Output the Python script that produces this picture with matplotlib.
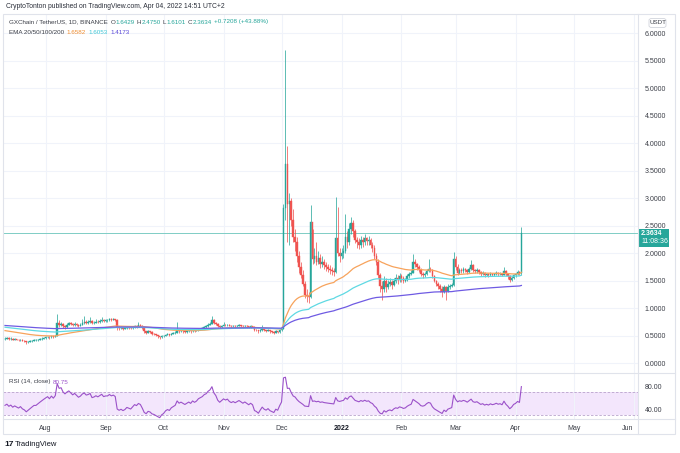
import numpy as np
import pandas as pd
import matplotlib
matplotlib.use("Agg")
import matplotlib.pyplot as plt
import matplotlib.dates as mdates
from matplotlib.patches import Rectangle, FancyBboxPatch

plt.rcParams['font.family'] = ['Liberation Sans', 'DejaVu Sans']

# Velas diarias GXC/USDT, la última es el 04-04-2022
last_day = "2022-04-04"
first_open = 0.44

close = [
    0.45, 0.46, 0.44, 0.45, 0.43, 0.44, 0.43, 0.42, 0.43, 0.41, 0.40, 0.38, 0.39, 0.40, 0.41, 0.42, 0.42, 0.43, 0.44, 0.45, 0.46, 0.47,
    0.48, 0.47, 0.49, 0.48, 0.50, 0.74, 0.70, 0.72, 0.68, 0.66, 0.70, 0.73, 0.71, 0.69, 0.72, 0.70, 0.68, 0.70, 0.74, 0.76, 0.74, 0.75, 0.77, 0.73, 0.74, 0.76, 0.75, 0.77, 0.79, 0.77, 0.78,
    0.78, 0.80, 0.79, 0.80, 0.79, 0.66, 0.64, 0.65, 0.63, 0.64, 0.66, 0.65, 0.64, 0.66, 0.68, 0.67, 0.69, 0.68, 0.64, 0.58, 0.56, 0.58, 0.57, 0.54, 0.53, 0.51, 0.49, 0.47, 0.49, 0.50,
    0.52, 0.53, 0.52, 0.54, 0.55, 0.56, 0.60, 0.58, 0.59, 0.58, 0.57, 0.58, 0.59, 0.58, 0.60, 0.59, 0.60, 0.62, 0.63, 0.64, 0.66, 0.67, 0.70, 0.72, 0.78, 0.74, 0.72, 0.68, 0.66, 0.68, 0.70,
    0.69, 0.70, 0.68, 0.67, 0.68, 0.67, 0.68, 0.69, 0.68, 0.67, 0.68, 0.67, 0.66, 0.67, 0.66, 0.61, 0.60, 0.58, 0.60, 0.62, 0.60, 0.59, 0.60, 0.58, 0.57, 0.56, 0.58, 0.57, 0.60, 0.63,
    2.82, 3.63, 2.90, 2.95, 2.60, 2.30, 2.20, 1.95, 1.75, 1.60, 1.45, 1.25, 1.22, 1.20, 2.57, 1.90, 1.95, 1.85, 1.92, 1.80, 1.85, 1.78, 1.75, 1.72, 1.70, 1.68, 1.66, 2.27, 2.00, 1.95,
    2.00, 2.05, 2.30, 2.20, 2.45, 2.55, 2.40, 2.25, 2.20, 2.15, 2.25, 2.20, 2.28, 2.22, 2.25, 2.15, 2.10, 1.95, 1.85, 1.60, 1.40, 1.35, 1.50, 1.38, 1.45, 1.48, 1.42, 1.50, 1.55, 1.52, 1.58,
    1.55, 1.50, 1.52, 1.58, 1.62, 1.65, 1.85, 1.80, 1.75, 1.70, 1.62, 1.60, 1.62, 1.68, 1.72, 1.70, 1.58, 1.50, 1.45, 1.40, 1.35, 1.30, 1.38, 1.32, 1.38, 1.40, 1.42, 1.90,
    1.75, 1.65, 1.70, 1.68, 1.72, 1.70, 1.66, 1.72, 1.78, 1.70, 1.68, 1.70, 1.66, 1.62, 1.64, 1.60, 1.62, 1.60, 1.63, 1.61, 1.62, 1.64, 1.62, 1.63, 1.61, 1.68, 1.62, 1.58, 1.52, 1.55, 1.60,
    1.62, 1.66, 1.6426, 2.3634,
]
high = [
    0.47, 0.48, 0.47, 0.47, 0.46, 0.46, 0.45, 0.44, 0.45, 0.44, 0.42, 0.41, 0.41, 0.42, 0.43, 0.44, 0.44, 0.45, 0.46, 0.47, 0.48, 0.49,
    0.50, 0.49, 0.50, 0.50, 0.52, 0.90, 0.78, 0.76, 0.74, 0.70, 0.74, 0.76, 0.75, 0.73, 0.75, 0.74, 0.72, 0.74, 0.80, 0.86, 0.79, 0.78, 0.84, 0.78, 0.77, 0.80, 0.78, 0.80, 0.84, 0.80, 0.81,
    0.80, 0.83, 0.82, 0.82, 0.81, 0.80, 0.68, 0.67, 0.66, 0.66, 0.68, 0.68, 0.66, 0.68, 0.70, 0.70, 0.76, 0.71, 0.69, 0.65, 0.59, 0.60, 0.59, 0.58, 0.55, 0.54, 0.52, 0.50, 0.51, 0.52,
    0.54, 0.55, 0.54, 0.56, 0.57, 0.58, 0.75, 0.62, 0.61, 0.60, 0.59, 0.60, 0.61, 0.60, 0.62, 0.61, 0.62, 0.64, 0.65, 0.66, 0.68, 0.69, 0.73, 0.75, 0.86, 0.80, 0.76, 0.73, 0.69, 0.70, 0.76,
    0.71, 0.72, 0.71, 0.69, 0.70, 0.69, 0.70, 0.71, 0.70, 0.69, 0.70, 0.69, 0.68, 0.69, 0.68, 0.67, 0.63, 0.61, 0.62, 0.69, 0.63, 0.61, 0.62, 0.61, 0.59, 0.58, 0.60, 0.59, 0.62, 0.65,
    2.90, 5.69, 3.95, 3.10, 3.00, 2.80, 2.45, 2.30, 2.05, 1.85, 1.70, 1.50, 1.35, 1.30, 2.88, 2.45, 2.10, 2.20, 2.05, 1.98, 1.95, 1.90, 1.85, 1.80, 1.78, 1.76, 1.74, 3.02, 2.84, 2.10,
    2.10, 2.15, 2.72, 2.40, 2.55, 2.66, 2.60, 2.45, 2.30, 2.28, 2.32, 2.30, 2.35, 2.30, 2.32, 2.28, 2.20, 2.15, 2.00, 1.90, 1.65, 1.50, 1.58, 1.55, 1.52, 1.55, 1.52, 1.56, 1.62, 1.60, 1.64,
    1.62, 1.58, 1.56, 1.62, 1.66, 1.70, 1.98, 1.90, 1.82, 1.78, 1.74, 1.66, 1.66, 1.72, 1.90, 1.76, 1.72, 1.60, 1.52, 1.48, 1.44, 1.40, 1.42, 1.40, 1.45, 1.44, 1.46, 2.02,
    1.95, 1.80, 1.74, 1.73, 1.76, 1.74, 1.72, 1.75, 1.88, 1.80, 1.72, 1.74, 1.72, 1.68, 1.67, 1.66, 1.65, 1.64, 1.66, 1.65, 1.65, 1.67, 1.66, 1.66, 1.65, 1.76, 1.70, 1.64, 1.60, 1.58, 1.63,
    1.65, 1.70, 1.68, 2.4750,
]
low = [
    0.43, 0.44, 0.43, 0.43, 0.42, 0.42, 0.42, 0.41, 0.41, 0.40, 0.38, 0.36, 0.37, 0.38, 0.39, 0.40, 0.41, 0.41, 0.42, 0.43, 0.44, 0.45,
    0.46, 0.45, 0.46, 0.46, 0.47, 0.49, 0.66, 0.68, 0.65, 0.63, 0.65, 0.69, 0.69, 0.67, 0.68, 0.68, 0.66, 0.67, 0.69, 0.72, 0.72, 0.72, 0.74, 0.71, 0.71, 0.73, 0.73, 0.74, 0.76, 0.75, 0.75,
    0.76, 0.77, 0.77, 0.78, 0.77, 0.60, 0.61, 0.62, 0.61, 0.62, 0.63, 0.63, 0.62, 0.63, 0.65, 0.65, 0.66, 0.66, 0.62, 0.56, 0.53, 0.55, 0.55, 0.52, 0.51, 0.49, 0.46, 0.45, 0.46, 0.48,
    0.49, 0.51, 0.50, 0.51, 0.53, 0.54, 0.55, 0.56, 0.57, 0.56, 0.55, 0.56, 0.57, 0.56, 0.57, 0.57, 0.58, 0.59, 0.61, 0.62, 0.63, 0.65, 0.66, 0.69, 0.71, 0.72, 0.70, 0.66, 0.64, 0.65, 0.67,
    0.67, 0.68, 0.67, 0.65, 0.66, 0.65, 0.66, 0.67, 0.66, 0.65, 0.66, 0.65, 0.64, 0.65, 0.64, 0.59, 0.58, 0.56, 0.57, 0.59, 0.58, 0.57, 0.58, 0.56, 0.55, 0.54, 0.55, 0.55, 0.56, 0.59,
    0.62, 2.60, 2.20, 2.15, 2.50, 2.20, 2.05, 1.85, 1.65, 1.55, 1.40, 1.18, 1.12, 1.10, 1.18, 1.80, 1.82, 1.78, 1.80, 1.74, 1.76, 1.72, 1.68, 1.66, 1.62, 1.60, 1.58, 1.64, 1.95, 1.85,
    1.90, 1.92, 2.00, 2.10, 2.15, 2.35, 2.30, 2.18, 2.10, 2.08, 2.10, 2.12, 2.15, 2.15, 2.15, 2.10, 2.02, 1.90, 1.78, 1.55, 1.30, 1.15, 1.30, 1.30, 1.35, 1.40, 1.36, 1.40, 1.46, 1.45, 1.48,
    1.48, 1.46, 1.47, 1.50, 1.56, 1.60, 1.64, 1.76, 1.70, 1.66, 1.58, 1.56, 1.57, 1.60, 1.66, 1.66, 1.55, 1.47, 1.40, 1.36, 1.30, 1.20, 1.28, 1.15, 1.30, 1.35, 1.38, 1.40,
    1.70, 1.60, 1.62, 1.64, 1.65, 1.66, 1.62, 1.64, 1.70, 1.66, 1.64, 1.65, 1.62, 1.58, 1.60, 1.57, 1.58, 1.57, 1.58, 1.58, 1.59, 1.60, 1.59, 1.60, 1.58, 1.60, 1.58, 1.54, 1.48, 1.50, 1.54,
    1.57, 1.60, 1.61, 1.6101,
]

ema_periods = [50, 100, 200]
ema_seeds = [0.60, 0.66, 0.69]
ema_colors = ["#f7a35c", "#5fd9e3", "#6f5be3"]
rsi_seed_gain = 0.009
rsi_seed_loss = 0.011

# textos de la leyenda tal como aparecen
ohlc_text = [("O", "1.6429"), ("H", "2.4750"), ("L", "1.6101"), ("C", "2.3634")]
change_text = "+0.7208 (+43.88%)"
ema_values = ["1.6582", "1.6053", "1.4173"]
rsi_last = "80.75"

month_ticks = ["2021-08-01", "2021-09-01", "2021-10-01", "2021-11-01", "2021-12-01", "2022-01-01",
               "2022-02-01", "2022-03-01", "2022-04-01", "2022-05-01", "2022-06-01"]
month_labels = ["Aug", "Sep", "Oct", "Nov", "Dec", "2022", "Feb", "Mar", "Apr", "May", "Jun"]

GREEN = "#26a69a"
RED = "#ef5350"
TXT = "#3b3e47"
GRID = "#f0f3fa"
FRAME = "#e0e3eb"

W, H = 680, 453


def fx(px):
    return px / W


def fy(py):
    return 1 - py / H


def ema(values, n, seed):
    s = pd.Series([seed] + list(values))
    return s.ewm(span=n, adjust=False).mean().to_numpy()[1:]


close = np.array(close)
high = np.array(high)
low = np.array(low)
opens = np.r_[first_open, close[:-1]]
dates = pd.date_range(end=last_day, periods=len(close), freq="D")
x = mdates.date2num(dates)

# RSI de Wilder (14)
diff = close - opens
gain = pd.Series(np.r_[rsi_seed_gain, np.clip(diff, 0, None)]).ewm(alpha=1 / 14, adjust=False).mean().to_numpy()[1:]
loss = pd.Series(np.r_[rsi_seed_loss, np.clip(-diff, 0, None)]).ewm(alpha=1 / 14, adjust=False).mean().to_numpy()[1:]
rsi = 100 - 100 / (1 + gain / loss)

fig = plt.figure(figsize=(W / 100, H / 100), dpi=100)
fig.patch.set_facecolor("white")

x0 = x[0] - 1.03
x1 = x[0] + 327.3

# Panel de precios
ax = fig.add_axes([fx(3), fy(372.7), fx(638) - fx(3), fy(15) - fy(372.7)])
ax.set_xlim(x0, x1)
ax.set_ylim((363.3 - 372.7) / 55.0, (363.3 - 15) / 55.0)
for s in ax.spines.values():
    s.set_visible(False)
ax.set_yticks(np.arange(0, 6.01, 0.5))
ax.yaxis.tick_right()
ax.tick_params(axis="y", length=0, pad=5, labelsize=5, labelcolor=TXT)
ax.yaxis.set_major_formatter(plt.FuncFormatter(lambda v, p: f"{v:.4f}"))
ax.set_xticks(mdates.date2num(pd.to_datetime(month_ticks)))
ax.tick_params(axis="x", length=0, labelbottom=False)
ax.grid(True, color=GRID, lw=0.8)
ax.set_axisbelow(True)

up = close >= opens
cols = [GREEN if u else RED for u in up]
ax.vlines(x, low, high, colors=cols, lw=0.7, alpha=0.75, zorder=2)
body = np.maximum(np.abs(close - opens), 0.008)
ax.bar(x, body, bottom=np.minimum(opens, close), width=0.8, color=cols, edgecolor=cols,
       linewidth=0.3, zorder=3)

for n, seed, c in zip(ema_periods, ema_seeds, ema_colors):
    ax.plot(x, ema(close, n, seed), color=c, lw=0.9, zorder=4)

ax.axhline(close[-1], color="#7fcdc5", lw=0.7, zorder=1)

# Panel RSI
ax2 = fig.add_axes([fx(3), fy(419), fx(638) - fx(3), fy(372.7) - fy(419)])
ax2.set_xlim(x0, x1)
ax2.set_ylim(22.9, 104.7)
for s in ax2.spines.values():
    s.set_visible(False)
ax2.axhspan(30, 70, color="#f3e6fc", lw=0, zorder=0)
ax2.axhline(70, color="#b9a3cc", lw=0.6, ls=(0, (3, 2)))
ax2.axhline(30, color="#b9a3cc", lw=0.6, ls=(0, (3, 2)))
ax2.plot(x, rsi, color="#9b51c9", lw=0.8)
ax2.set_yticks([40, 80])
ax2.yaxis.tick_right()
ax2.tick_params(axis="y", length=0, pad=5, labelsize=5, labelcolor=TXT)
ax2.yaxis.set_major_formatter(plt.FuncFormatter(lambda v, p: f"{v:.2f}"))
ax2.set_xticks(mdates.date2num(pd.to_datetime(month_ticks)))
ax2.set_xticklabels(month_labels)
ax2.tick_params(axis="x", length=0, pad=4, labelsize=5, labelcolor=TXT)
for lab in ax2.get_xticklabels():
    if lab.get_text() == "2022":
        lab.set_fontweight("bold")
        lab.set_color("#131722")
    if lab.get_text() == "Jun":
        lab.set_horizontalalignment("right")
ax2.grid(True, axis="x", color=GRID, lw=0.8)
ax2.set_axisbelow(True)

# Marco y separadores
fig.add_artist(Rectangle((fx(3), fy(434)), fx(675) - fx(3), fy(14) - fy(434), transform=fig.transFigure,
                         fill=False, edgecolor=FRAME, lw=0.8))
for py in [372.7, 419]:
    fig.add_artist(plt.Line2D([fx(3), fx(675)], [fy(py), fy(py)], color=FRAME, lw=0.8))
fig.add_artist(plt.Line2D([fx(638), fx(638)], [fy(14), fy(434)], color=FRAME, lw=0.8))

# Etiqueta del último precio
py_last = 363.3 - 55.0 * close[-1]
fig.add_artist(Rectangle((fx(638), fy(py_last + 13.5)), fx(669) - fx(638), fy(py_last - 4.5) - fy(py_last + 13.5),
                         transform=fig.transFigure, facecolor=GREEN, edgecolor="none"))
fig.text(fx(641), fy(py_last), f"{close[-1]:.4f}", color="white", fontsize=5, fontweight="bold", va="center")
fig.text(fx(641), fy(py_last + 8), "11:08:36", color="white", fontsize=5, va="center")

# USDT
fig.add_artist(FancyBboxPatch((fx(649), fy(27.5)), fx(666) - fx(649), fy(18.5) - fy(27.5),
                              boxstyle="round,pad=0,rounding_size=0.004", transform=fig.transFigure,
                              facecolor="white", edgecolor="#d1d4dc", lw=0.6))
fig.text(fx(657.5), fy(23), "USDT", fontsize=4.5, color=TXT, ha="center", va="center")

# Textos de cabecera
fig.text(fx(6), fy(7), "CryptoTonton published on TradingView.com, Apr 04, 2022 14:51 UTC+2",
         fontsize=4.9, color="#2a2e39", va="center")

renderer = fig.canvas.get_renderer()


def put_row(px, py, pieces, size=4.5):
    # escribe trozos seguidos, midiendo el ancho de cada uno
    cur = px
    for s, c, gap in pieces:
        t = fig.text(fx(cur), fy(py), s, fontsize=size, color=c, va="center")
        cur += t.get_window_extent(renderer).width + gap


row1 = [("GXChain / TetherUS, 1D, BINANCE", TXT, 3)]
for k, v in ohlc_text:
    row1 += [(k, TXT, 0.2), (v, GREEN, 2)]
row1 += [(change_text, GREEN, 0)]
put_row(9, 22, row1)

row2 = [("EMA 20/50/100/200", TXT, 2.5)]
for v, c in zip(ema_values, ["#f08c2e", "#3ec7d6", "#5a48d8"]):
    row2 += [(v, c, 2.5)]
put_row(9, 32, row2)

put_row(9, 382, [("RSI (14, close)", TXT, 2.5), (rsi_last, "#9b51c9", 0)])

# Logo
fig.text(fx(4), fy(445), "17", fontsize=6, fontweight="bold", color="#131722", va="center")
fig.text(fx(15), fy(445), "TradingView", fontsize=5.5, color="#131722", va="center")

fig.savefig("out.png", dpi=100, facecolor="white")
